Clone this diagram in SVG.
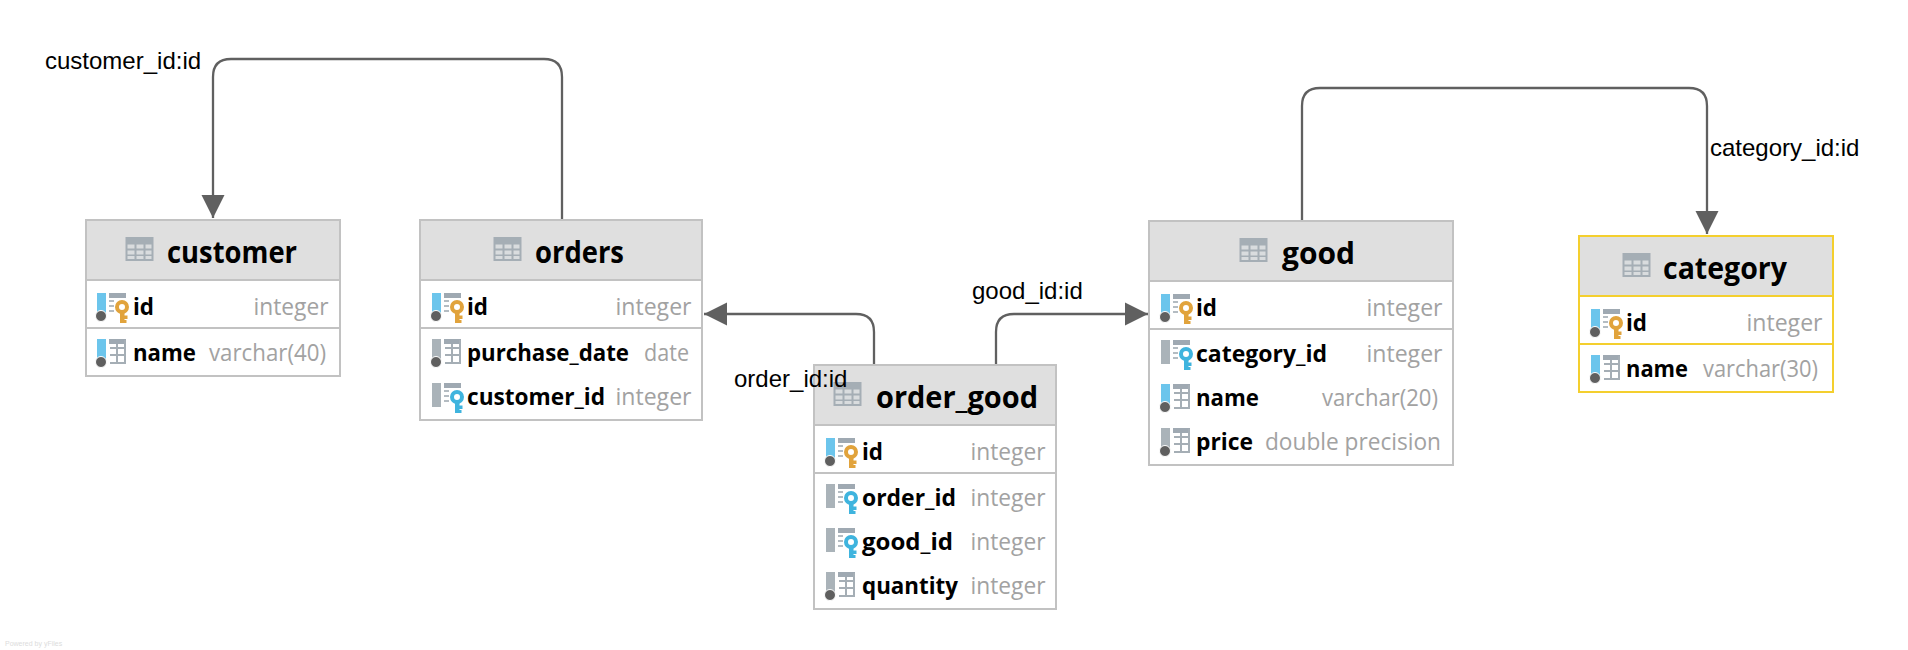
<svg xmlns="http://www.w3.org/2000/svg" width="1908" height="650" viewBox="0 0 1908 650">
<style>
.box{fill:#fff;stroke:#c2c2c2;stroke-width:2}
.head{fill:#dfdfdf}
.sep{stroke:#c2c2c2;stroke-width:2}
.sel .box{stroke:#f4cf2e}
.sel .sep{stroke:#f4cf2e}
.title{font:bold 30px "Open Sans","Noto Sans",sans-serif;fill:#000}
.col{font:bold 24px "Open Sans","Noto Sans",sans-serif;fill:#000}
.type{font:24px "Open Sans","Noto Sans",sans-serif;fill:#a2a2a2}
.lbl{font:24px "Liberation Sans",Arial,sans-serif;fill:#000}
.edge{fill:none;stroke:#606060;stroke-width:2.300}
.bar-b{fill:#6cc5ec}
.bar-g{fill:#aab3b9}
.dot{fill:#5f5f5f;stroke:#fff;stroke-width:1}
.stripe{fill:#9fa9b2}
.dash{stroke:#b4bcc2;stroke-width:2}
.grid{fill:none;stroke:#a5aeb5;stroke-width:2}
</style>
<defs>
<marker id="arrow" markerUnits="userSpaceOnUse" markerWidth="24" markerHeight="24" refX="23" refY="12" orient="auto"><path d="M0,0.5L23,12L0,23.500Z" fill="#606060"/></marker>
<symbol id="tbl" overflow="visible"><rect width="28" height="24" fill="#a5aeb5"/><path d="M2,7.500h7v4h-7zM11,7.500h7v4h-7zM20,7.500h6v4h-6zM2,13.500h7v4h-7zM11,13.500h7v4h-7zM20,13.500h6v4h-6zM2,19h7v3h-7zM11,19h7v3h-7zM20,19h6v3h-6z" fill="#d9dcde"/></symbol>
<symbol id="key" overflow="visible"><rect x="12" width="17" height="5" class="stripe"/><path d="M12,8h5M12,13h5M12,18h5" class="dash"/><circle cx="25" cy="14" r="5" fill="#fff" stroke="currentColor" stroke-width="4"/><path d="M23,19h4.500v11h-4.500zM27,22.500h3.500v3.500h-3.500zM27,27h2.500v3h-2.500z" fill="currentColor"/></symbol>
<symbol id="gridi" overflow="visible"><rect x="12" width="17" height="5" class="stripe"/><path d="M28,1V24H13M20,5V24M13,9H28M13,16H28" class="grid"/></symbol>
<symbol id="pk" overflow="visible"><rect width="9" height="21" class="bar-b"/><circle cx="4" cy="23" r="5.500" class="dot"/><use href="#key" color="#e1a33c"/></symbol>
<symbol id="fk" overflow="visible"><rect width="9" height="24" class="bar-g"/><use href="#key" color="#3fb4de"/></symbol>
<symbol id="colb" overflow="visible"><rect width="9" height="21" class="bar-b"/><circle cx="4" cy="23" r="5.500" class="dot"/><use href="#gridi"/></symbol>
<symbol id="colg" overflow="visible"><rect width="9" height="21" class="bar-g"/><circle cx="4" cy="23" r="5.500" class="dot"/><use href="#gridi"/></symbol>
</defs>
<rect width="1908" height="650" fill="#fff"/>
<g id="connectors">
<path class="edge" marker-end="url(#arrow)" d="M562,220V77Q562,59 544,59H231Q213,59 213,77V218"/>
<path class="edge" marker-end="url(#arrow)" d="M874,365V332Q874,314 856,314H704"/>
<path class="edge" marker-end="url(#arrow)" d="M996,365V332Q996,314 1014,314H1148"/>
<path class="edge" marker-end="url(#arrow)" d="M1302,221V106Q1302,88 1320,88H1689Q1707,88 1707,106V234"/>
</g>
<g id="customer">
<rect class="box" x="86" y="220" width="254" height="156"/><rect class="head" x="87" y="221" width="252" height="59"/>
<path class="sep" d="M86,280H340M86,328H340"/>
<use href="#tbl" x="125.500" y="237"/>
<text class="title" x="167" y="263" textLength="130" lengthAdjust="spacingAndGlyphs">customer</text>
<use href="#pk" x="97" y="293"/><text class="col" x="133" y="315" textLength="21" lengthAdjust="spacingAndGlyphs">id</text><text class="type" x="253.500" y="315" textLength="75" lengthAdjust="spacingAndGlyphs">integer</text>
<use href="#colb" x="97" y="339"/><text class="col" x="133" y="361" textLength="63" lengthAdjust="spacingAndGlyphs">name</text><text class="type" x="209" y="361" textLength="117" lengthAdjust="spacingAndGlyphs">varchar(40)</text>
</g>
<g id="orders">
<rect class="box" x="420" y="220" width="282" height="200"/><rect class="head" x="421" y="221" width="280" height="59"/>
<path class="sep" d="M420,280H702M420,328H702"/>
<use href="#tbl" x="493.500" y="237"/>
<text class="title" x="535" y="263" textLength="89" lengthAdjust="spacingAndGlyphs">orders</text>
<use href="#pk" x="432" y="293"/><text class="col" x="467" y="315" textLength="21" lengthAdjust="spacingAndGlyphs">id</text><text class="type" x="615.500" y="315" textLength="76" lengthAdjust="spacingAndGlyphs">integer</text>
<use href="#colg" x="432" y="339"/><text class="col" x="467" y="361" textLength="162" lengthAdjust="spacingAndGlyphs">purchase_date</text><text class="type" x="644" y="361" textLength="45" lengthAdjust="spacingAndGlyphs">date</text>
<use href="#fk" x="432" y="383"/><text class="col" x="467" y="404.500" textLength="138" lengthAdjust="spacingAndGlyphs">customer_id</text><text class="type" x="615.500" y="404.500" textLength="76" lengthAdjust="spacingAndGlyphs">integer</text>
</g>
<g id="order_good">
<rect class="box" x="814" y="365" width="242" height="244"/><rect class="head" x="815" y="366" width="240" height="59"/>
<path class="sep" d="M814,425H1056M814,473H1056"/>
<use href="#tbl" x="833.500" y="382"/>
<text class="title" x="876" y="408" textLength="162" lengthAdjust="spacingAndGlyphs">order_good</text>
<use href="#pk" x="826" y="438"/><text class="col" x="862" y="460" textLength="21" lengthAdjust="spacingAndGlyphs">id</text><text class="type" x="970.500" y="460" textLength="75" lengthAdjust="spacingAndGlyphs">integer</text>
<use href="#fk" x="826" y="484"/><text class="col" x="862" y="506" textLength="94" lengthAdjust="spacingAndGlyphs">order_id</text><text class="type" x="970.500" y="506" textLength="75" lengthAdjust="spacingAndGlyphs">integer</text>
<use href="#fk" x="826" y="528"/><text class="col" x="862" y="550" textLength="91" lengthAdjust="spacingAndGlyphs">good_id</text><text class="type" x="970.500" y="550" textLength="75" lengthAdjust="spacingAndGlyphs">integer</text>
<use href="#colg" x="826" y="572"/><text class="col" x="862" y="594" textLength="96" lengthAdjust="spacingAndGlyphs">quantity</text><text class="type" x="970.500" y="594" textLength="75" lengthAdjust="spacingAndGlyphs">integer</text>
</g>
<g id="good">
<rect class="box" x="1149" y="221" width="304" height="244"/><rect class="head" x="1150" y="222" width="302" height="59"/>
<path class="sep" d="M1149,281H1453M1149,329H1453"/>
<use href="#tbl" x="1239.500" y="238"/>
<text class="title" x="1282" y="264" textLength="73" lengthAdjust="spacingAndGlyphs">good</text>
<use href="#pk" x="1161" y="294"/><text class="col" x="1196" y="316" textLength="21" lengthAdjust="spacingAndGlyphs">id</text><text class="type" x="1366.500" y="316" textLength="76" lengthAdjust="spacingAndGlyphs">integer</text>
<use href="#fk" x="1161" y="340"/><text class="col" x="1196" y="362" textLength="131" lengthAdjust="spacingAndGlyphs">category_id</text><text class="type" x="1366.500" y="362" textLength="76" lengthAdjust="spacingAndGlyphs">integer</text>
<use href="#colb" x="1161" y="384"/><text class="col" x="1196" y="406" textLength="63" lengthAdjust="spacingAndGlyphs">name</text><text class="type" x="1322" y="406" textLength="116" lengthAdjust="spacingAndGlyphs">varchar(20)</text>
<use href="#colg" x="1161" y="428"/><text class="col" x="1196" y="450" textLength="57" lengthAdjust="spacingAndGlyphs">price</text><text class="type" x="1265" y="450" textLength="176" lengthAdjust="spacingAndGlyphs">double precision</text>
</g>
<g id="category" class="sel">
<rect class="box" x="1579" y="236" width="254" height="156"/><rect class="head" x="1580" y="237" width="252" height="59"/>
<path class="sep" d="M1579,296H1833M1579,344H1833"/>
<use href="#tbl" x="1622.500" y="253"/>
<text class="title" x="1663" y="279" textLength="124" lengthAdjust="spacingAndGlyphs">category</text>
<use href="#pk" x="1591" y="309"/><text class="col" x="1626" y="331" textLength="21" lengthAdjust="spacingAndGlyphs">id</text><text class="type" x="1746.500" y="331" textLength="76" lengthAdjust="spacingAndGlyphs">integer</text>
<use href="#colb" x="1591" y="355"/><text class="col" x="1626" y="377" textLength="62" lengthAdjust="spacingAndGlyphs">name</text><text class="type" x="1703" y="377" textLength="115" lengthAdjust="spacingAndGlyphs">varchar(30)</text>
</g>
<g id="labels">
<text class="lbl" x="45" y="69">customer_id:id</text>
<text class="lbl" x="734" y="387">order_id:id</text>
<text class="lbl" x="972" y="299">good_id:id</text>
<text class="lbl" x="1710" y="156">category_id:id</text>
</g>
<text x="5" y="646" font-family="Liberation Sans, sans-serif" font-size="7" fill="#dcdcdc">Powered by yFiles</text>
</svg>
